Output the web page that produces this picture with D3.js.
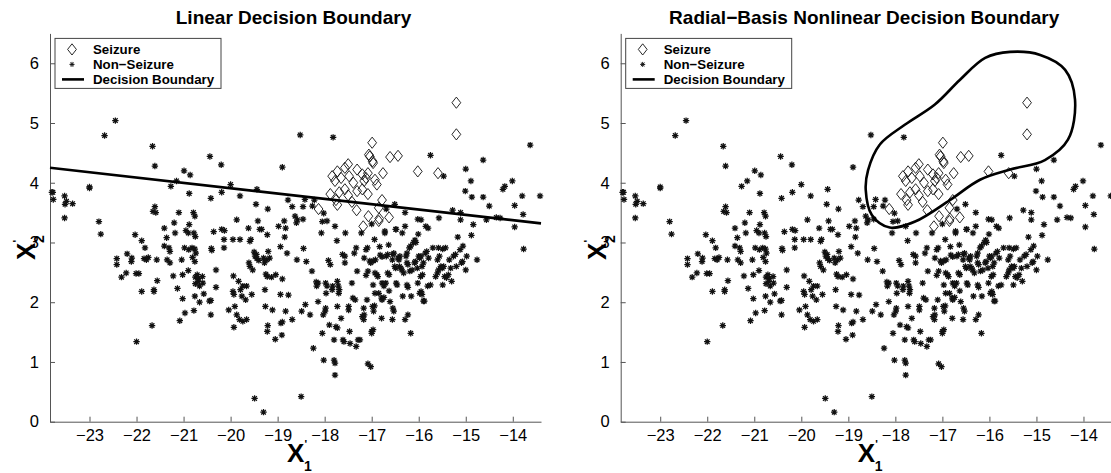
<!DOCTYPE html>
<html>
<head>
<meta charset="utf-8">
<script src="https://cdn.jsdelivr.net/npm/d3@7"></script>
<style>
  body { margin: 0; background: #fff; }
  svg { font-family: "Liberation Sans", Arial, Helvetica, sans-serif; }
</style>
</head>
<body>
<div id="chart"></div>
<script>
// titles and tick values
const titles = ["Linear Decision Boundary", "Radial\u2212Basis Nonlinear Decision Boundary"];
const xTicks = [-23, -22, -21, -20, -19, -18, -17, -16, -15, -14];
const yTicks = [0, 1, 2, 3, 4, 5, 6];
const legendLabels = ["Seizure", "Non\u2212Seizure", "Decision Boundary"];

// seizure samples [x1', x2']
const seizure = [
  [-15.20, 5.34], [-15.20, 4.81], [-16.99, 4.67], [-17.06, 4.47], [-17.04, 4.44],
  [-16.98, 4.36], [-16.97, 4.33], [-16.61, 4.43], [-16.44, 4.45], [-16.02, 4.19],
  [-15.59, 4.16], [-16.76, 4.16], [-17.50, 4.31], [-17.57, 4.25], [-17.73, 4.19],
  [-17.84, 4.11], [-17.78, 4.03], [-17.65, 4.08], [-17.48, 4.11], [-17.31, 4.22],
  [-17.20, 4.14], [-17.12, 4.08], [-17.08, 4.16], [-16.93, 4.05], [-16.89, 3.97],
  [-17.16, 4.03], [-17.39, 4.00], [-17.57, 3.89], [-17.69, 3.84], [-17.88, 3.81],
  [-17.76, 3.71], [-17.73, 3.63], [-17.50, 3.79], [-17.42, 3.68], [-17.31, 3.86],
  [-17.20, 3.89], [-17.08, 3.81], [-16.78, 3.71], [-16.85, 3.58], [-17.07, 3.44],
  [-16.84, 3.40], [-16.85, 3.36], [-16.63, 3.42], [-17.32, 3.54], [-17.18, 3.27],
  [-18.13, 3.56]
];

// non-seizure samples [x1', x2']
const nonSeizure = [
  [-23.80, 3.84], [-23.77, 3.72], [-23.78, 3.84], [-23.53, 3.78], [-23.49, 3.69],
  [-23.52, 3.64], [-23.36, 3.65], [-23.53, 3.41], [-23.00, 3.91], [-23.00, 3.93],
  [-22.80, 3.35], [-22.76, 3.14], [-22.68, 4.79], [-22.45, 5.04], [-22.42, 2.73],
  [-22.42, 2.63], [-22.32, 2.42], [-22.22, 2.49], [-22.20, 2.81], [-22.11, 2.68],
  [-22.10, 2.74], [-22.03, 3.13], [-22.01, 2.48], [-21.95, 2.48], [-22.00, 1.34],
  [-21.89, 3.03], [-21.82, 2.91], [-21.89, 2.18], [-21.63, 2.21], [-21.63, 2.18],
  [-21.84, 2.73], [-21.79, 2.71], [-21.75, 2.75], [-21.67, 1.61], [-21.57, 2.71],
  [-21.56, 2.36], [-21.41, 3.24], [-21.36, 3.08], [-21.31, 2.91], [-21.41, 2.94],
  [-21.29, 2.85], [-21.35, 2.71], [-21.29, 2.66], [-21.20, 3.33], [-21.18, 3.16],
  [-21.22, 2.44], [-21.10, 3.50], [-21.13, 2.23], [-21.08, 1.69], [-21.04, 2.71],
  [-21.02, 2.46], [-20.98, 2.91], [-21.02, 2.06], [-21.66, 4.61], [-21.61, 4.28],
  [-21.65, 3.52], [-21.61, 3.60], [-21.59, 3.50], [-21.15, 4.03], [-21.27, 3.94],
  [-20.99, 4.20], [-20.86, 4.13], [-20.44, 4.44], [-20.20, 4.30],
  [-20.97, 1.82], [-20.95, 3.20], [-20.90, 3.16], [-20.89, 2.88], [-20.82, 2.91],
  [-20.76, 2.89], [-20.88, 3.82], [-20.88, 3.30], [-20.81, 2.75], [-20.76, 2.68],
  [-20.74, 2.82], [-20.79, 3.50], [-20.76, 3.44], [-20.78, 3.16], [-20.90, 2.53],
  [-20.75, 2.42], [-20.71, 2.46], [-20.68, 2.40], [-20.75, 2.31], [-20.69, 2.35],
  [-20.66, 2.27], [-20.60, 2.43], [-20.76, 2.10], [-20.66, 2.00], [-20.78, 1.86],
  [-20.59, 2.32], [-20.57, 2.14], [-20.75, 3.10], [-20.41, 2.90], [-20.40, 2.87],
  [-20.42, 3.74], [-20.42, 2.03], [-20.45, 2.02], [-20.42, 1.79], [-20.36, 3.18],
  [-20.31, 2.54], [-20.31, 2.25], [-20.19, 3.22], [-20.13, 3.20], [-20.14, 3.05],
  [-20.14, 2.91], [-20.19, 3.84], [-20.04, 1.87], [-20.00, 3.97],
  [-19.95, 3.05], [-19.94, 2.44], [-19.95, 2.18], [-19.93, 2.13], [-19.93, 1.58],
  [-19.87, 3.38], [-19.91, 1.93], [-19.87, 1.79], [-19.83, 2.35], [-19.79, 2.21],
  [-19.74, 2.27], [-19.80, 3.05], [-19.80, 3.78], [-19.76, 2.10], [-19.68, 2.04],
  [-19.81, 1.71], [-19.74, 1.68], [-19.66, 1.71], [-19.66, 2.27], [-19.62, 3.24],
  [-19.59, 3.02], [-19.57, 3.05], [-19.61, 2.66], [-19.59, 2.60], [-19.53, 2.54],
  [-19.55, 2.13], [-19.50, 2.84], [-19.45, 2.80], [-19.44, 2.73], [-19.40, 2.70],
  [-19.48, 2.77], [-19.46, 3.64], [-19.44, 3.89], [-19.42, 3.36], [-19.38, 3.22],
  [-19.34, 3.22], [-19.49, 0.39], [-19.30, 0.16], [-19.30, 2.74], [-19.28, 2.66],
  [-19.23, 2.71], [-19.17, 2.74], [-19.25, 2.47], [-19.22, 2.43], [-19.27, 2.21],
  [-19.26, 1.93], [-19.21, 3.56], [-19.22, 3.13], [-19.21, 1.61], [-19.22, 1.51],
  [-19.13, 2.42], [-19.11, 1.87], [-19.05, 1.38], [-19.04, 2.46], [-19.20, 2.85],
  [-18.98, 3.27], [-18.94, 2.93], [-18.94, 2.13], [-18.93, 1.65], [-18.90, 1.67],
  [-18.91, 1.45], [-18.90, 2.39], [-18.90, 4.26], [-18.86, 3.36], [-18.83, 3.24],
  [-18.85, 3.09], [-18.83, 1.85], [-18.78, 3.71], [-18.80, 2.82], [-18.77, 2.12],
  [-18.69, 1.71], [-18.63, 3.44], [-18.58, 3.38], [-18.60, 3.33], [-18.59, 2.71],
  [-18.52, 4.80], [-18.50, 0.42], [-18.49, 1.85], [-18.46, 3.60], [-18.46, 3.39],
  [-18.45, 2.90], [-18.42, 3.72], [-18.41, 1.96], [-18.39, 2.68], [-18.31, 1.79],
  [-18.27, 2.52], [-18.26, 3.61], [-18.24, 1.23], [-18.22, 3.71], [-18.18, 2.34],
  [-18.17, 2.27], [-18.14, 2.32], [-18.14, 2.01], [-18.05, 3.35], [-18.02, 3.49],
  [-18.07, 3.16], [-18.05, 1.48], [-18.03, 1.79], [-18.02, 1.03], [-18.69, 3.60],
  [-17.98, 2.32], [-17.95, 2.27], [-17.97, 2.15], [-17.99, 1.85], [-17.98, 1.90],
  [-17.90, 1.62], [-17.92, 2.70], [-17.88, 2.63], [-17.84, 2.21], [-17.83, 2.27],
  [-17.80, 1.03], [-17.78, 0.98], [-17.78, 0.78], [-17.80, 1.37], [-17.76, 1.59],
  [-17.73, 1.57], [-17.78, 3.27], [-17.74, 3.03], [-17.73, 2.35], [-17.71, 2.27],
  [-17.69, 2.21], [-17.70, 2.15], [-17.73, 1.93], [-17.65, 1.73], [-17.62, 2.80],
  [-17.61, 1.37], [-17.59, 1.34], [-17.57, 2.77], [-17.57, 2.66], [-17.56, 3.16],
  [-17.49, 1.93], [-17.49, 1.87], [-17.47, 1.51], [-17.46, 1.31], [-17.42, 2.32],
  [-17.40, 2.07], [-17.37, 2.82], [-17.35, 2.04], [-17.33, 2.91], [-17.31, 2.52],
  [-17.29, 1.37], [-17.25, 1.37], [-17.33, 1.26], [-17.22, 3.16], [-17.20, 1.76],
  [-17.17, 1.71], [-17.16, 1.79], [-17.17, 1.90], [-17.16, 2.74], [-17.12, 2.88],
  [-17.09, 2.91], [-17.10, 2.04], [-17.08, 0.97], [-17.02, 0.92], [-17.04, 2.69],
  [-17.02, 2.66], [-17.12, 2.45], [-17.08, 2.52], [-17.82, 4.76], [-17.95, 3.36],
  [-17.00, 3.31], [-17.00, 1.51], [-16.97, 1.54], [-17.00, 1.48], [-16.97, 2.29],
  [-16.93, 2.15], [-16.96, 1.85], [-16.98, 1.93], [-16.94, 1.94], [-16.97, 2.69],
  [-16.92, 2.71], [-16.94, 3.05], [-16.93, 2.49], [-16.89, 2.46], [-16.87, 2.43],
  [-16.85, 2.15], [-16.83, 2.93], [-16.82, 2.79], [-16.78, 2.76], [-16.79, 2.07],
  [-16.78, 2.04], [-16.74, 2.08], [-16.79, 1.73], [-16.78, 2.32], [-16.74, 2.27],
  [-16.70, 2.32], [-16.72, 3.16], [-16.69, 2.77], [-16.66, 2.80], [-16.66, 2.49],
  [-16.63, 2.46], [-16.64, 2.96], [-16.63, 2.19], [-16.61, 2.01], [-16.56, 2.71],
  [-16.55, 2.80], [-16.53, 2.82], [-16.56, 1.71], [-16.55, 1.90], [-16.53, 1.85],
  [-16.51, 2.60], [-16.49, 2.57], [-16.49, 3.22], [-16.48, 2.32], [-16.46, 2.29],
  [-16.44, 2.74], [-16.42, 2.71], [-16.40, 2.77], [-16.41, 2.60], [-16.38, 2.57],
  [-16.36, 2.54], [-16.35, 3.16], [-16.34, 2.10], [-16.32, 2.49], [-16.29, 3.50],
  [-16.29, 3.27], [-16.29, 1.71], [-16.27, 2.77], [-16.25, 2.82], [-16.25, 2.66],
  [-16.23, 2.63], [-16.25, 2.29], [-16.23, 2.25], [-16.23, 1.79], [-16.20, 2.91],
  [-16.17, 2.94], [-16.17, 1.48], [-16.19, 2.52], [-16.14, 2.54], [-16.16, 2.10],
  [-16.11, 3.00], [-16.08, 3.04], [-16.06, 3.00], [-16.09, 2.66], [-16.07, 2.68],
  [-16.03, 2.57], [-16.02, 2.32], [-16.51, 3.64], [-16.69, 3.56], [-16.48, 3.22],
  [-16.72, 3.19], [-16.02, 3.39], [-15.95, 3.38], [-16.01, 3.14],
  [-16.00, 2.77], [-15.98, 2.74], [-15.95, 2.77], [-15.98, 2.15], [-15.95, 2.18],
  [-15.93, 2.13], [-15.96, 2.43], [-15.92, 2.46], [-15.93, 2.60], [-15.90, 2.66],
  [-15.90, 2.02], [-15.88, 2.02], [-15.86, 2.82], [-15.83, 2.85], [-15.81, 2.27],
  [-15.75, 2.29], [-15.79, 2.74], [-15.85, 3.27], [-15.80, 3.24], [-15.70, 2.91],
  [-15.75, 4.46], [-15.64, 2.43], [-15.60, 2.49], [-15.58, 2.54], [-15.60, 2.71],
  [-15.56, 2.77], [-15.58, 2.91], [-15.49, 2.89], [-15.43, 2.91], [-15.57, 3.41],
  [-15.53, 2.60], [-15.50, 2.57], [-15.47, 2.60], [-15.49, 2.29], [-15.47, 4.11],
  [-15.45, 2.43], [-15.41, 2.41], [-15.37, 2.46], [-15.35, 2.71], [-15.32, 2.57],
  [-15.30, 2.35], [-15.28, 3.54], [-15.26, 2.77], [-15.22, 2.80], [-15.20, 2.60],
  [-15.17, 3.09], [-15.12, 2.88], [-15.11, 3.50], [-15.11, 3.38], [-15.09, 2.66],
  [-15.07, 2.68], [-15.06, 2.94],
  [-15.00, 2.54], [-15.00, 4.23], [-15.01, 3.86], [-14.98, 2.77], [-14.89, 4.03],
  [-14.88, 3.12], [-14.87, 3.76], [-14.84, 3.30], [-14.76, 2.71], [-14.63, 4.38],
  [-14.63, 3.76], [-14.56, 3.38], [-14.50, 3.61], [-14.35, 3.42], [-14.27, 3.41],
  [-14.21, 3.89], [-14.17, 3.94], [-14.01, 4.03], [-13.96, 3.62], [-13.96, 3.26],
  [-13.80, 3.78], [-13.78, 3.47], [-13.77, 2.89], [-13.63, 4.63], [-13.42, 3.78]
];

// decision boundaries
const linearBoundary = [[-23.84, 4.25], [-13.40, 3.32]];
const radialBoundary = [
  [-18.58, 4.21], [-18.33, 4.64], [-17.80, 4.97], [-17.16, 5.31], [-16.63, 5.72],
  [-16.09, 6.09], [-15.56, 6.19], [-14.92, 6.14], [-14.39, 5.89], [-14.18, 5.39],
  [-14.33, 4.72], [-14.82, 4.38], [-15.56, 4.22], [-16.20, 4.05], [-16.84, 3.71],
  [-17.58, 3.35], [-18.12, 3.25], [-18.50, 3.46], [-18.63, 3.88]
];

const W = 1111, H = 473;
const pw = 491, ph = 388.3;
const panels = [
  { left: 50, title: titles[0], boundary: linearBoundary, closed: false },
  { left: 620.7, title: titles[1], boundary: radialBoundary, closed: true }
];

const svg = d3.select("#chart").append("svg")
  .attr("width", W)
  .attr("height", H);

const x = d3.scaleLinear().domain([-23.84, -13.4]).range([0, pw]);
const y = d3.scaleLinear().domain([0, 6.5]).range([ph, 0]);

const fmt = d => String(d).replace("-", "\u2212");

function starPath(r) {
  const d = r * 0.72;
  return `M${-r},0L${r},0M0,${-r}L0,${r}M${-d},${-d}L${d},${d}M${-d},${d}L${d},${-d}`;
}
function diamondPath(w, h) {
  return `M0,${-h}L${w},0L0,${h}L${-w},0Z`;
}

panels.forEach(function (p) {
  const g = svg.append("g").attr("transform", `translate(${p.left},33.4)`);

  const xAxis = d3.axisBottom(x).tickValues(xTicks).tickFormat(fmt)
    .tickSizeInner(-5).tickSizeOuter(0).tickPadding(8);
  const yAxis = d3.axisLeft(y).tickValues(yTicks).tickFormat(fmt)
    .tickSizeInner(-5).tickSizeOuter(0).tickPadding(11);

  const gx = g.append("g").attr("transform", `translate(0,${ph})`).call(xAxis);
  const gy = g.append("g").call(yAxis);
  [gx, gy].forEach(a => {
    a.selectAll("path, line").attr("stroke", "#555");
    a.selectAll("text").attr("font-size", 16.5).attr("fill", "#000")
      .attr("font-family", "'Liberation Sans', Arial, sans-serif");
  });

  // non-seizure stars
  g.append("g").selectAll("path")
    .data(nonSeizure)
    .enter()
    .append("path")
    .attr("d", starPath(3.2))
    .attr("transform", d => `translate(${x(d[0])},${y(d[1])})`)
    .attr("stroke", "#111")
    .attr("stroke-width", 1.25)
    .attr("fill", "none");

  // seizure diamonds
  g.append("g").selectAll("path")
    .data(seizure)
    .enter()
    .append("path")
    .attr("d", diamondPath(4.4, 5.6))
    .attr("transform", d => `translate(${x(d[0])},${y(d[1])})`)
    .attr("stroke", "#111")
    .attr("stroke-width", 0.9)
    .attr("fill", "none");

  // decision boundary
  const line = d3.line()
    .x(d => x(d[0]))
    .y(d => y(d[1]))
    .curve(p.closed ? d3.curveCatmullRomClosed : d3.curveLinear);
  g.append("path")
    .datum(p.boundary)
    .attr("d", line)
    .attr("fill", "none")
    .attr("stroke", "#000")
    .attr("stroke-width", 2.6);

  // title
  g.append("text")
    .attr("x", pw / 2 - 2)
    .attr("y", -9.5)
    .attr("text-anchor", "middle")
    .attr("font-size", 19)
    .attr("font-weight", "bold")
    .text(p.title);

  // axis labels
  const xl = g.append("text")
    .attr("x", pw / 2 + 4)
    .attr("y", ph + 40)
    .attr("text-anchor", "middle")
    .attr("font-weight", "bold")
    .attr("font-size", 26);
  xl.append("tspan").text("X");
  xl.append("tspan").attr("font-size", 11).attr("dy", -14).attr("dx", 0).text("'");
  xl.append("tspan").attr("font-size", 14).attr("dy", 23).attr("dx", -3).text("1");

  const yl = g.append("text")
    .attr("transform", `translate(-15,${ph / 2 + 20}) rotate(-90)`)
    .attr("text-anchor", "middle")
    .attr("font-weight", "bold")
    .attr("font-size", 26);
  yl.append("tspan").text("X");
  yl.append("tspan").attr("font-size", 11).attr("dy", -14).attr("dx", 0).text("'");
  yl.append("tspan").attr("font-size", 14).attr("dy", 23).attr("dx", -3).text("2");

  // legend
  const lg = g.append("g").attr("transform", "translate(5,5)");
  lg.append("rect")
    .attr("width", 166).attr("height", 50)
    .attr("fill", "#fff").attr("stroke", "#444").attr("stroke-width", 1);
  const rows = [11, 26, 41];
  lg.append("path").attr("d", diamondPath(4.4, 5.6))
    .attr("transform", `translate(17,${rows[0]})`)
    .attr("fill", "none").attr("stroke", "#111").attr("stroke-width", 0.9);
  lg.append("path").attr("d", starPath(2.5))
    .attr("transform", `translate(17,${rows[1]})`)
    .attr("fill", "none").attr("stroke", "#111").attr("stroke-width", 1);
  lg.append("line").attr("x1", 7).attr("x2", 29)
    .attr("y1", rows[2]).attr("y2", rows[2])
    .attr("stroke", "#000").attr("stroke-width", 2.6);
  lg.selectAll("text.lab")
    .data(legendLabels)
    .enter()
    .append("text")
    .attr("class", "lab")
    .attr("x", 38)
    .attr("y", (d, i) => rows[i] + 5)
    .attr("font-size", 13.3)
    .attr("font-weight", "bold")
    .text(d => d);
});
</script>
</body>
</html>
